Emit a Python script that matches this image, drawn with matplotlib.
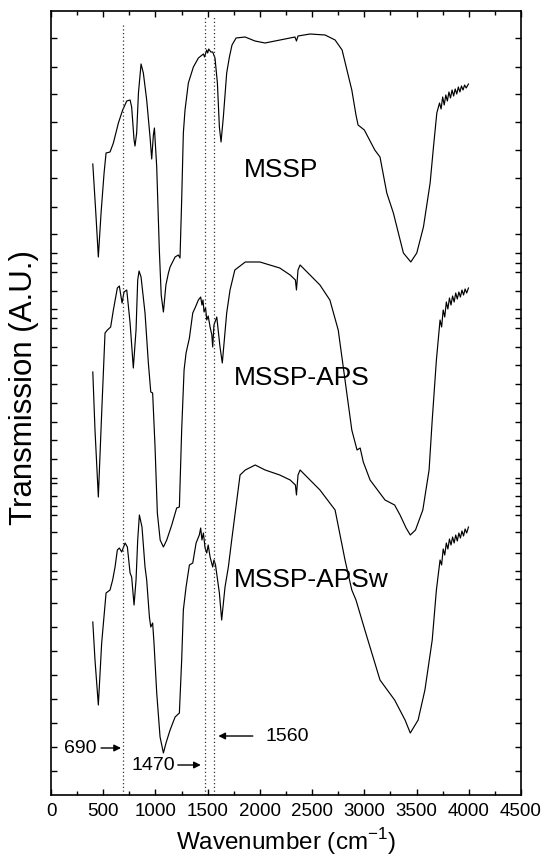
import matplotlib.pyplot as plt

plt.rcParams['font.family'] = ['Liberation Sans', 'DejaVu Sans']

# FT-IR spectra, transmission in arbitrary units
wn_mssp = [400, 430, 453, 479, 508, 527, 565, 597, 645, 686, 725, 757, 772, 795, 804, 820, 837, 862,
           884, 916, 948, 964, 980, 990, 1012, 1037, 1055, 1076, 1100, 1124, 1140, 1188, 1219, 1235,
           1251, 1267, 1283, 1315, 1363, 1411, 1459, 1470, 1490, 1500, 1510, 1530, 1548, 1570, 1593,
           1612, 1628, 1650, 1682, 1708, 1733, 1772, 1858, 1953, 2049, 2193, 2336, 2350, 2365, 2480,
           2624, 2720, 2787, 2845, 2880, 2920, 2940, 3000, 3100, 3150, 3215, 3278, 3326, 3374, 3445,
           3502, 3566, 3630, 3662, 3694, 3720, 3735, 3750, 3765, 3780, 3795, 3810, 3825, 3840, 3855,
           3870, 3885, 3900, 3915, 3930, 3945, 3960, 3975, 3997]
t_mssp = [631, 580, 538, 582, 622, 642, 643, 652, 672, 685, 694, 695, 688, 655, 649, 662, 702, 731,
          722, 695, 658, 636, 660, 667, 628, 545, 500, 483, 510, 522, 528, 538, 540, 537,
          595, 662, 685, 712, 728, 737, 741, 738, 745, 742, 746, 743, 743, 737, 712,
          668, 653, 678, 722, 738, 750, 757, 758, 754, 752, 755, 758, 754, 759, 761,
          760, 755, 745, 720, 705, 680, 670, 665, 645, 638, 602, 582, 562, 542, 533,
          542, 568, 612, 648, 682, 692, 686, 698, 690, 700, 694, 703, 697, 705, 699,
          706, 701, 708, 703, 709, 705, 710, 707, 711]

wn_aps = [400, 421, 453, 485, 517, 540, 571, 597, 635, 654, 680, 699, 725, 757, 788, 814, 830, 843,
          862, 900, 932, 955, 973, 996, 1018, 1045, 1076, 1108, 1156, 1203, 1229, 1251, 1274, 1293,
          1325, 1357, 1379, 1411, 1433, 1445, 1455, 1465, 1480, 1491, 1505, 1523, 1540, 1548, 1560,
          1587, 1618, 1640, 1682, 1714, 1760, 1860, 2000, 2190, 2290, 2340, 2350, 2365, 2385, 2575,
          2670, 2750, 2815, 2880, 2930, 2960, 2990, 3055, 3198, 3290, 3342, 3400, 3440, 3490, 3560,
          3620, 3650, 3690, 3725, 3740, 3755, 3770, 3785, 3800, 3815, 3830, 3845, 3860, 3875, 3890,
          3905, 3920, 3935, 3950, 3965, 3980, 3997]
t_aps = [423, 365, 298, 382, 462, 465, 468, 485, 507, 509, 492, 503, 505, 472, 427, 465, 515, 524,
         518, 482, 432, 403, 402, 348, 282, 255, 248, 255, 270, 287, 288, 365, 425, 442,
         457, 482, 487, 495, 498, 490, 495, 483, 487, 475, 479, 468, 460, 448, 470,
         478, 448, 432, 482, 505, 525, 533, 533, 527, 520, 515, 505, 525, 530, 510,
         495, 465, 415, 365, 345, 347, 333, 315, 295, 290, 280, 267, 260, 265, 285,
         325, 375, 435, 475, 468, 485, 478, 493, 486, 497, 490, 499, 493, 502, 496,
         503, 498, 505, 500, 506, 502, 507]

wn_apsw = [400, 421, 453, 485, 527, 565, 590, 613, 635, 654, 677, 709, 731, 757, 772, 795, 814, 830,
           846, 871, 900, 916, 942, 955, 973, 986, 1012, 1044, 1076, 1101, 1140, 1188, 1229, 1251,
           1267, 1293, 1325, 1357, 1389, 1420, 1433, 1445, 1459, 1475, 1491, 1505, 1523, 1548, 1560,
           1575, 1612, 1634, 1666, 1698, 1730, 1810, 1860, 1955, 2050, 2190, 2290, 2340, 2350, 2365,
           2385, 2575, 2720, 2815, 2880, 2920, 3005, 3150, 3290, 3390, 3440, 3515, 3580, 3650, 3690,
           3725, 3740, 3755, 3770, 3785, 3800, 3815, 3830, 3845, 3860, 3875, 3890, 3905, 3920, 3935,
           3950, 3965, 3980, 3997]
t_apsw = [173, 135, 90, 152, 202, 205, 215, 228, 245, 247, 243, 252, 248, 222, 218, 190, 215, 255,
          280, 268, 228, 215, 178, 168, 172, 152, 102, 58, 42, 52, 65, 78, 82, 135,
          185, 208, 230, 232, 252, 260, 267, 255, 262, 247, 242, 250, 238, 228, 235,
          230, 202, 175, 208, 228, 255, 320, 325, 330, 325, 320, 315, 310, 300, 320,
          325, 305, 285, 235, 205, 195, 165, 115, 95, 75, 62, 75, 105, 155, 205,
          235, 230, 246, 240, 252, 246, 256, 250, 258, 252, 260, 254, 262, 257, 264,
          259, 266, 262, 268]

marks = [690, 1470, 1560]
names = ['MSSP', 'MSSP-APS', 'MSSP-APSw']

fig = plt.figure(figsize=(5.44, 8.59), dpi=100)
ax = fig.add_axes([0.0938, 0.0745, 0.8639, 0.9127])

for wn, t in [(wn_mssp, t_mssp), (wn_aps, t_aps), (wn_apsw, t_apsw)]:
    ax.plot(wn, t, color='black', lw=0.85)

for m, top in zip(marks, [0.982, 0.995, 0.993]):
    ax.axvline(m, ymin=0, ymax=top, color='#333333', ls=(0, (1, 2)), lw=0.9)

ax.text(2203, 625, names[0], fontsize=19, ha='center', va='center')
ax.text(2404, 417, names[1], fontsize=19, ha='center', va='center')
ax.text(2490, 215, names[2], fontsize=19, ha='center', va='center')

arrow = dict(arrowstyle='-|>', lw=1, color='black', mutation_scale=10, shrinkA=0, shrinkB=0)
ax.annotate('', xy=(670, 47), xytext=(479, 47), arrowprops=arrow)
ax.text(440, 47, '690', fontsize=14, ha='right', va='center')
ax.annotate('', xy=(1434, 30), xytext=(1214, 30), arrowprops=arrow)
ax.text(1188, 30, '1470', fontsize=14, ha='right', va='center')
ax.annotate('', xy=(1602, 59), xytext=(1932, 59), arrowprops=arrow)
ax.text(2050, 59, '1560', fontsize=14, ha='left', va='center')

ax.set_xlim(0, 4500)
ax.set_ylim(0, 784)
ax.set_xticks(range(0, 4501, 500))
ax.set_xticks(range(250, 4500, 500), minor=True)
ax.set_yticks([757, 728, 701, 673, 645, 617, 588, 561, 542, 532, 523, 504, 486, 477, 467, 448,
               430, 411, 392, 373, 355, 336, 317, 312, 299, 289, 280, 263, 242, 224, 216, 192,
               168, 144, 120, 96, 72, 48, 24])
ax.set_yticklabels([])
ax.tick_params(direction='in', top=True, right=True, which='both', labelsize=13.5, width=1, pad=6)
ax.tick_params(which='major', length=4)
ax.tick_params(which='minor', length=3)
for s in ax.spines.values():
    s.set_linewidth(1.2)

ax.set_xlabel('Wavenumber (cm$^{\\mathregular{-1}}$)', fontsize=17.5, labelpad=4)
ax.set_ylabel('Transmission (A.U.)', fontsize=22.5)
ax.yaxis.set_label_coords(-0.025, 0.52)

fig.savefig('out.png', dpi=100)
